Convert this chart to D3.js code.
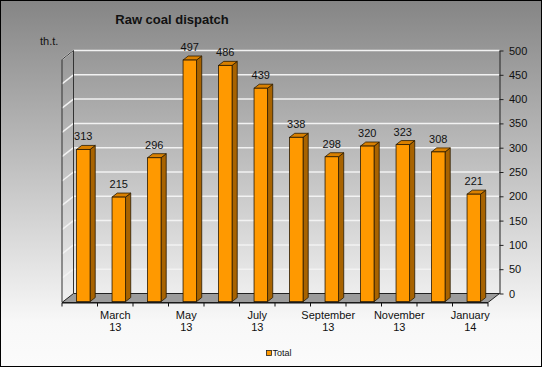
<!DOCTYPE html>
<html>
<head>
<meta charset="utf-8">
<script src="https://cdnjs.cloudflare.com/ajax/libs/d3/7.8.5/d3.min.js"></script>
<style>
  body { margin: 0; background: #fff; }
  svg { display: block; font-family: Arial, "Liberation Sans", sans-serif; }
</style>
</head>
<body>
<script>
// Chart data
var months = ["February", "March", "April", "May", "June", "July", "August",
  "September", "October", "November", "December", "January"];
var years = ["13", "13", "13", "13", "13", "13", "13", "13", "13", "13", "13", "14"];
var totals = [313, 215, 296, 497, 486, 439, 338, 298, 320, 323, 308, 221];
var yTicks = [0, 50, 100, 150, 200, 250, 300, 350, 400, 450, 500];
var seriesName = "Total";
var unitLabel = "th.t.";
var title = "Raw coal dispatch";

var width = 543,
  height = 368;

// front plane of the box, back plane = front + (dx, -dy)
var left = 62,
  right = 488,
  floorY = 302.5,
  dx = 11.5,
  dy = 9;

var svg = d3.select("body").append("svg")
  .attr("width", width)
  .attr("height", height);

var defs = svg.append("defs");
var grad = defs.append("linearGradient")
  .attr("id", "bg")
  .attr("x1", 0).attr("y1", 0)
  .attr("x2", 0).attr("y2", 1);
grad.append("stop").attr("offset", "0%").attr("stop-color", "#858585");
grad.append("stop").attr("offset", "88%").attr("stop-color", "#f8f8f8");
grad.append("stop").attr("offset", "100%").attr("stop-color", "#fbfbfb");

svg.append("rect")
  .attr("x", 0.5).attr("y", 0.5)
  .attr("width", width - 2).attr("height", height - 2)
  .attr("fill", "url(#bg)")
  .attr("stroke", "#000");

var x = d3.scaleBand()
  .domain(d3.range(totals.length))
  .range([left, right])
  .padding(0);

var y = d3.scaleLinear()
  .domain([0, 500])
  .range([floorY, floorY - 243]);

// back wall scale
var yBack = d3.scaleLinear()
  .domain([0, 500])
  .range([floorY - dy, floorY - dy - 243]);

function pt(px, py) {
  return px + "," + py;
}

/* WALLS AND FLOOR */

// back wall gridlines
svg.append("g")
  .selectAll("line")
  .data(yTicks.slice(1))
  .enter().append("line")
  .attr("x1", left + dx)
  .attr("x2", right + dx)
  .attr("y1", function (d) { return yBack(d); })
  .attr("y2", function (d) { return yBack(d); })
  .attr("stroke", "#f2f2f2")
  .attr("stroke-width", 1.5);

// left wall gridlines
svg.append("g")
  .selectAll("line")
  .data(yTicks.slice(1))
  .enter().append("line")
  .attr("x1", left)
  .attr("x2", left + dx)
  .attr("y1", function (d) { return y(d); })
  .attr("y2", function (d) { return yBack(d); })
  .attr("stroke", "#f2f2f2")
  .attr("stroke-width", 1.5);

// left wall outline
svg.append("polyline")
  .attr("points", [pt(left, y(0)), pt(left, y(500)), pt(left + dx, yBack(500)),
    pt(left + dx, yBack(0))].join(" "))
  .attr("fill", "none")
  .attr("stroke", "#333")
  .attr("stroke-width", 1);

// floor
svg.append("polygon")
  .attr("points", [pt(left, floorY), pt(left + dx, floorY - dy),
    pt(right + dx, floorY - dy), pt(right, floorY)].join(" "))
  .attr("fill", "#9c9c9c")
  .attr("stroke", "#222")
  .attr("stroke-width", 1);

/* BARS */

var t0 = 0.1,
  t1 = 0.55,
  barOffset = 13.4,
  barWidth = 13.5;

var bars = svg.append("g")
  .selectAll("g")
  .data(totals)
  .enter().append("g");

function bx(i) {
  return x(i) + barOffset + t0 * dx;
}

bars.append("polygon") // side
  .attr("points", function (d, i) {
    var x0 = bx(i) + barWidth,
      yb = y(0) - t0 * dy,
      yt = y(d) - t0 * dy,
      ox = (t1 - t0) * dx,
      oy = (t1 - t0) * dy;
    return [pt(x0, yb), pt(x0, yt), pt(x0 + ox, yt - oy), pt(x0 + ox, yb - oy)].join(" ");
  })
  .attr("fill", "#a86300")
  .attr("stroke", "#2a1a00")
  .attr("stroke-width", 0.8);

bars.append("polygon") // top
  .attr("points", function (d, i) {
    var x0 = bx(i),
      yt = y(d) - t0 * dy,
      ox = (t1 - t0) * dx,
      oy = (t1 - t0) * dy;
    return [pt(x0, yt), pt(x0 + barWidth, yt), pt(x0 + barWidth + ox, yt - oy),
      pt(x0 + ox, yt - oy)].join(" ");
  })
  .attr("fill", "#d98000")
  .attr("stroke", "#2a1a00")
  .attr("stroke-width", 0.8);

bars.append("rect") // front
  .attr("x", function (d, i) { return bx(i); })
  .attr("y", function (d) { return y(d) - t0 * dy; })
  .attr("width", barWidth)
  .attr("height", function (d) { return y(0) - y(d); })
  .attr("fill", "#ff9900")
  .attr("stroke", "#2a1a00")
  .attr("stroke-width", 0.8);

bars.append("text")
  .attr("x", function (d, i) { return bx(i) + barWidth / 2; })
  .attr("y", function (d) { return y(d) - t0 * dy - 9; })
  .attr("text-anchor", "middle")
  .attr("font-size", "11px")
  .attr("fill", "#111")
  .text(function (d) { return d; });

/* AXES */

var yAxis = d3.axisRight(yBack)
  .tickValues(yTicks)
  .tickSize(4)
  .tickSizeOuter(0)
  .tickPadding(5.5)
  .tickFormat(d3.format("d"));

var gy = svg.append("g")
  .attr("transform", "translate(" + (right + dx) + ",0)")
  .call(yAxis);
gy.select(".domain").attr("stroke", "#222");
gy.selectAll(".tick line").attr("stroke", "#222");
gy.selectAll(".tick text")
  .attr("font-size", "11px")
  .attr("font-family", "Arial, 'Liberation Sans', sans-serif")
  .attr("fill", "#111");

// bottom axis
svg.append("line")
  .attr("x1", left).attr("x2", right)
  .attr("y1", floorY + 0.5).attr("y2", floorY + 0.5)
  .attr("stroke", "#111");

svg.append("g")
  .selectAll("line")
  .data(d3.range(totals.length + 1))
  .enter().append("line")
  .attr("x1", function (d) { return left + d * x.step(); })
  .attr("x2", function (d) { return left + d * x.step(); })
  .attr("y1", floorY + 0.5)
  .attr("y2", floorY + 4)
  .attr("stroke", "#111");

var catLabels = svg.append("g")
  .selectAll("text")
  .data(d3.range(1, totals.length, 2))
  .enter().append("text")
  .attr("text-anchor", "middle")
  .attr("font-size", "11px")
  .attr("fill", "#111");

catLabels.append("tspan")
  .attr("x", function (i) { return x(i) + x.bandwidth() / 2; })
  .attr("y", 319)
  .text(function (i) { return months[i]; });

catLabels.append("tspan")
  .attr("x", function (i) { return x(i) + x.bandwidth() / 2; })
  .attr("y", 331)
  .text(function (i) { return years[i]; });

/* TITLE, UNIT, LEGEND */

svg.append("text")
  .attr("x", 172)
  .attr("y", 24)
  .attr("text-anchor", "middle")
  .attr("font-size", "13px")
  .attr("font-weight", "bold")
  .attr("fill", "#111")
  .text(title);

svg.append("text")
  .attr("x", 40)
  .attr("y", 45)
  .attr("font-size", "11px")
  .attr("fill", "#111")
  .text(unitLabel);

svg.append("rect")
  .attr("x", 266.5).attr("y", 350.5)
  .attr("width", 5).attr("height", 5)
  .attr("fill", "#ff9900")
  .attr("stroke", "#222")
  .attr("stroke-width", 0.8);

svg.append("text")
  .attr("x", 272.5)
  .attr("y", 356)
  .attr("font-size", "9px")
  .attr("fill", "#111")
  .text(seriesName);
</script>
</body>
</html>
